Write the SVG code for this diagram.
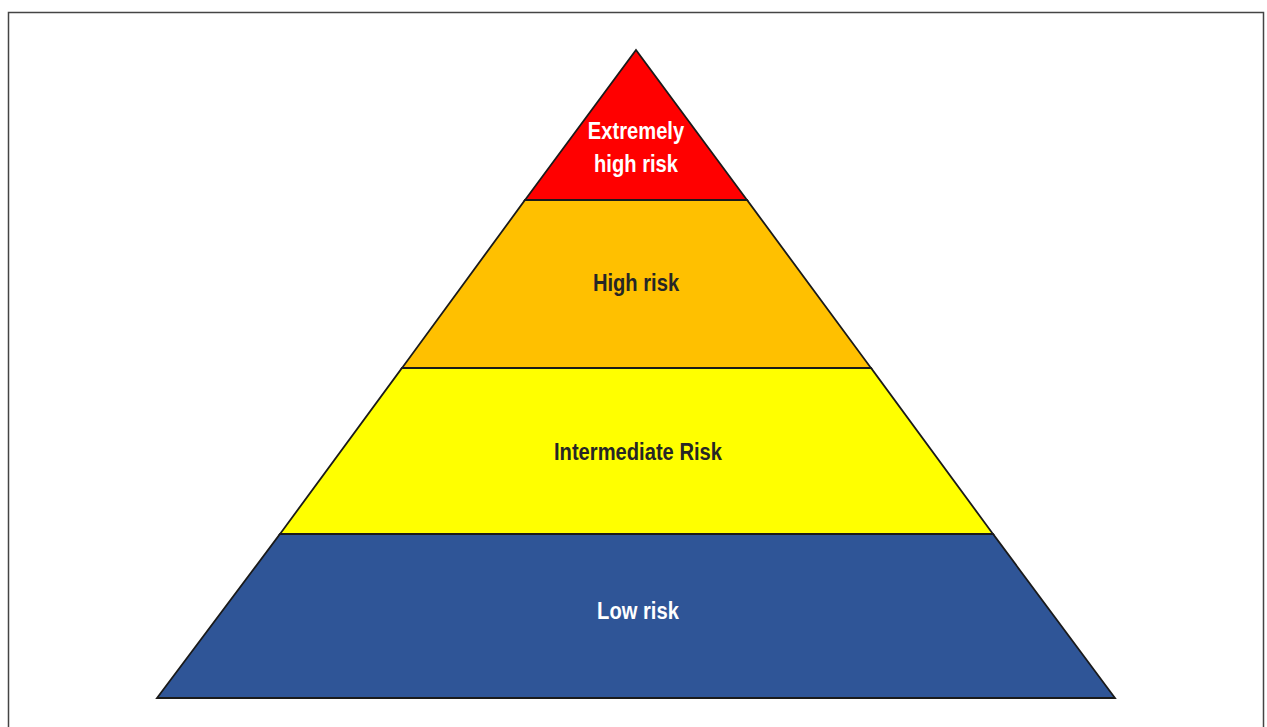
<svg xmlns="http://www.w3.org/2000/svg" width="1267" height="727" viewBox="0 0 1267 727">
  <style>
    .band { stroke: #1a1a1a; stroke-width: 1.8; stroke-linejoin: miter; }
    .lbl { font-family: "Liberation Sans", Arial, sans-serif; font-weight: bold; font-size: 24px; text-anchor: middle; }
    .light { fill: #ffffff; }
    .dark { fill: #262626; }
  </style>
  <rect x="0" y="0" width="1267" height="727" fill="#ffffff"/>
  <!-- page frame -->
  <path d="M8.5 727 V12.5 H1263.5 V727" fill="none" stroke="#444" stroke-width="1.5"/>

  <!-- pyramid tiers, apex (636,50), base 157..1115 at y=698; labels condensed horizontally -->
  <g id="tier-extreme">
    <polygon class="band" points="636,50 747,200 525,200" fill="#ff0000"/>
    <text class="lbl light" transform="translate(636,139) scale(0.84,1)">Extremely</text>
    <text class="lbl light" transform="translate(636,172) scale(0.84,1)">high risk</text>
  </g>
  <g id="tier-high">
    <polygon class="band" points="525,200 747,200 871,368 402,368" fill="#ffc000"/>
    <text class="lbl dark" transform="translate(636,291) scale(0.84,1)">High risk</text>
  </g>
  <g id="tier-intermediate">
    <polygon class="band" points="402,368 871,368 993,534 280,534" fill="#ffff00"/>
    <text class="lbl dark" transform="translate(638,460) scale(0.84,1)">Intermediate Risk</text>
  </g>
  <g id="tier-low">
    <polygon class="band" points="280,534 993,534 1115,698 157,698" fill="#2f5597"/>
    <text class="lbl light" transform="translate(638,619) scale(0.84,1)">Low risk</text>
  </g>
  <g id="connectors"></g>
</svg>
